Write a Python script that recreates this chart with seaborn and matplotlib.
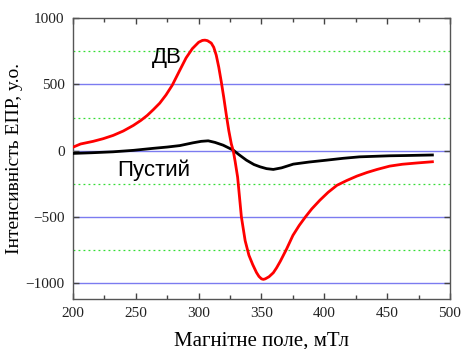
import matplotlib
matplotlib.use("Agg")
import matplotlib.pyplot as plt
import seaborn as sns
import pandas as pd
from matplotlib.ticker import MultipleLocator

# ДВ (red) series
dv_x = [200, 206, 216, 224, 232, 240, 248, 254, 259, 264, 269, 274, 279, 285, 290, 295, 300, 303, 305, 307, 310, 312, 314, 316, 318, 320, 322, 324, 326, 327.5, 329, 331, 334, 337, 340, 343, 346, 348, 350, 351.5, 353, 356, 359.4, 362, 365, 370, 375, 380, 385, 390, 396.5, 403, 410, 418, 426, 434, 442, 452, 462, 474, 486]
dv_y = [26, 50, 70, 90, 115, 148, 190, 228, 265, 310, 358, 420, 494, 607, 700, 770, 818, 832, 834, 830, 812, 780, 720, 630, 520, 400, 270, 150, 50, 0, -80, -200, -500, -680, -790, -860, -920, -950, -968, -972, -968, -952, -922, -885, -835, -742, -640, -565, -500, -440, -374, -315, -262, -225, -192, -165, -142, -117, -103, -93, -84]

# Пустий (black) series
p_x = [200, 215, 231.8, 248, 263.6, 275, 285, 295.5, 302, 307.6, 313, 319.5, 324, 327.5, 332, 338, 344, 348.8, 354, 359.4, 366, 375.3, 388, 401.8, 415, 428, 440, 452, 465, 486]
p_y = [-21, -16, -9, 2, 17, 27, 38, 59, 70, 74, 62, 41, 20, 4, -30, -72, -105, -122, -136, -142, -130, -102, -86, -72, -58, -47, -43, -39, -37, -33]

df_dv = pd.DataFrame({"x": dv_x, "y": dv_y})
df_p = pd.DataFrame({"x": p_x, "y": p_y})

fig = plt.figure(figsize=(4.62, 3.49), dpi=100)
ax = fig.add_axes([0.158, 0.1433, 0.974 - 0.158, 0.948 - 0.1433])

# grid lines
for v in [-1000, -500, 0, 500]:
    ax.axhline(v, color="#7b7bf0", lw=1.0, zorder=1)
for v in [-750, -250, 250, 750]:
    ax.axhline(v, color="#33dd33", lw=0.9, ls=(0, (1.5, 2.5)), zorder=1)

sns.lineplot(data=df_p, x="x", y="y", color="black", lw=2.0, ax=ax, zorder=3)
sns.lineplot(data=df_dv, x="x", y="y", color="#ff0000", lw=2.0, ax=ax, zorder=4)

ax.set_xlim(200, 500)
ax.set_ylim(-1120, 1000)
ax.xaxis.set_major_locator(MultipleLocator(50))
ax.xaxis.set_minor_locator(MultipleLocator(25))
ax.yaxis.set_major_locator(MultipleLocator(500))
ax.xaxis.set_ticks_position("both")
ax.yaxis.set_ticks_position("both")
ax.tick_params(axis="both", which="both", direction="in", labelcolor="#222222",
               color="#444444")
ax.tick_params(which="major", length=4, width=1.0, pad=6)
ax.tick_params(which="minor", length=3, width=1.0)
for lab in ax.get_xticklabels() + ax.get_yticklabels():
    lab.set_fontfamily("Liberation Serif")
    lab.set_fontsize(11)
for s in ax.spines.values():
    s.set_color("#555555")
    s.set_linewidth(1.0)

ax.set_xlabel("Магнітне поле, мТл", fontfamily="Liberation Serif", fontsize=15,
              labelpad=8, color="black")
ax.set_ylabel("Інтенсивність ЕПР, у.о.", fontfamily="Liberation Serif", fontsize=14,
              labelpad=2, color="black")

ax.text(263, 706, "ДВ", fontfamily="Liberation Sans", fontsize=16, ha="left",
        va="center", color="black")
ax.text(235.5, -147, "Пустий", fontfamily="Liberation Sans", fontsize=16, ha="left",
        va="center", color="black")

fig.savefig("out.png", dpi=100)
